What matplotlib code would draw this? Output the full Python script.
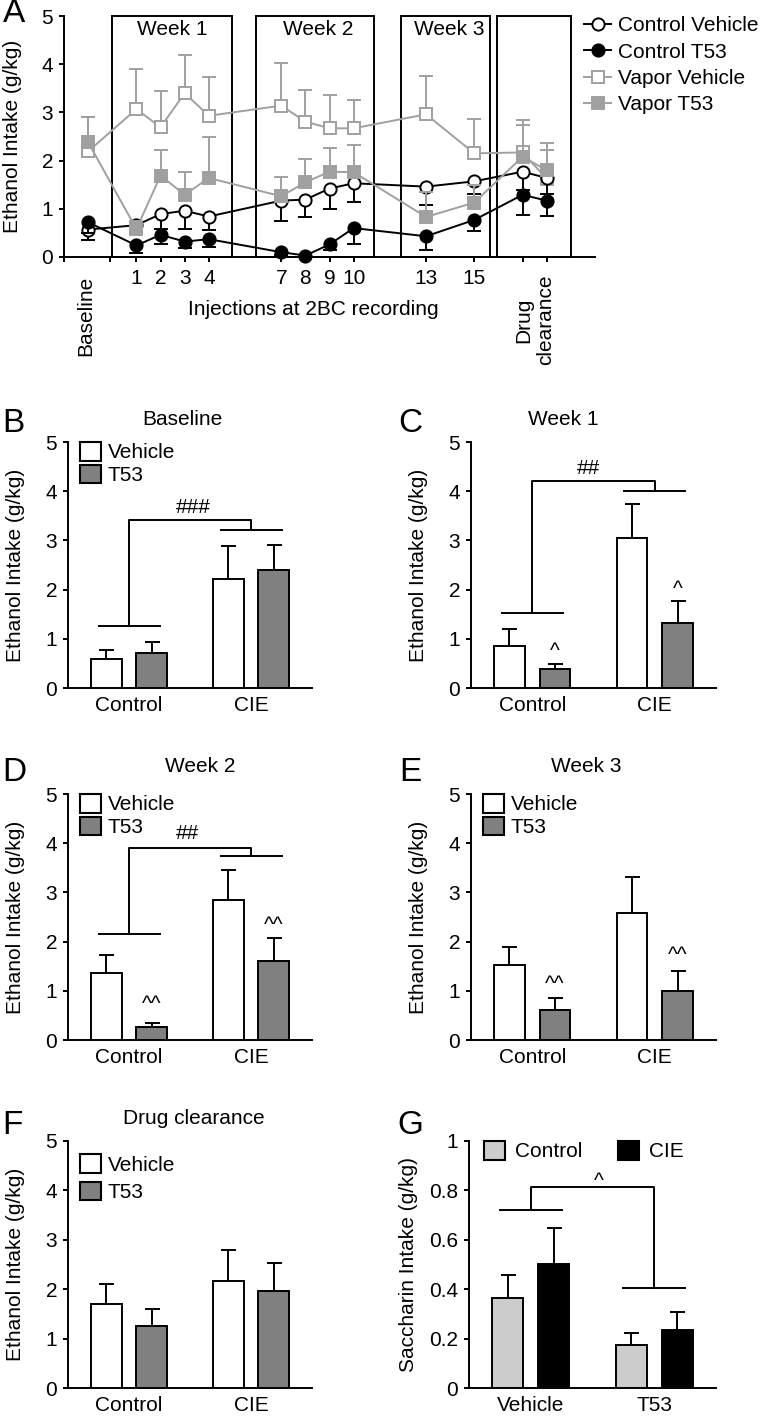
import numpy as np
import matplotlib
matplotlib.use('Agg')
import matplotlib.pyplot as plt
from matplotlib.patches import Rectangle, Patch

plt.rcParams['font.family'] = ['Liberation Sans', 'DejaVu Sans']
plt.rcParams['font.size'] = 15
plt.rcParams['axes.linewidth'] = 1.4

# ---- panel A: time course ----
a_x = [-1, 1, 2, 3, 4, 7, 8, 9, 10, 13, 15, 17, 18]
a_ticks = [-2, -0.1, 1, 2, 3, 4, 7, 8, 9, 10, 13, 15, 17, 18]
a_ticklabels = ['', '', '1', '2', '3', '4', '7', '8', '9', '10', '13', '15', '', '']

ctrl_veh = [0.57, 0.66, 0.89, 0.96, 0.84, 1.17, 1.19, 1.42, 1.53, 1.46, 1.57, 1.77, 1.64]
ctrl_veh_err = [0.36, 0.50, 0.58, 0.58, 0.55, 0.74, 0.83, 0.99, 1.15, 1.07, 1.30, 1.40, 1.30]
ctrl_t53 = [0.72, 0.24, 0.46, 0.32, 0.37, 0.10, 0.03, 0.26, 0.60, 0.43, 0.77, 1.29, 1.17]
ctrl_t53_err = [0.50, 0.08, 0.26, 0.19, 0.21, 0.05, 0.00, 0.15, 0.27, 0.14, 0.53, 0.88, 0.86]
vap_veh = [2.19, 3.07, 2.69, 3.40, 2.93, 3.14, 2.81, 2.67, 2.67, 2.96, 2.15, 2.17, 1.62]
vap_veh_err = [2.90, 3.90, 3.45, 4.19, 3.74, 4.02, 3.47, 3.36, 3.25, 3.76, 2.87, 2.85, 2.21]
vap_t53 = [2.38, 0.58, 1.69, 1.29, 1.64, 1.26, 1.55, 1.77, 1.76, 0.83, 1.13, 2.08, 1.80]
vap_t53_err = [2.90, 0.75, 2.21, 1.76, 2.50, 1.66, 2.04, 2.27, 2.33, 1.34, 1.50, 2.74, 2.36]

week_boxes = [(0.0, 4.95), (5.94, 10.84), (11.97, 15.63), (15.96, 18.99)]
week_labels = ['Week 1', 'Week 2', 'Week 3', '']
week_label_x = [2.5, 8.55, 13.95, 0]

# ---- panels B-F: ethanol intake bars (Control, CIE) ----
groups = ['Control', 'CIE']
b_veh, b_veh_err, b_t53, b_t53_err = [0.58, 2.22], [0.78, 2.88], [0.71, 2.39], [0.93, 2.91]
c_veh, c_veh_err, c_t53, c_t53_err = [0.85, 3.05], [1.19, 3.74], [0.38, 1.32], [0.49, 1.76]
d_veh, d_veh_err, d_t53, d_t53_err = [1.36, 2.85], [1.73, 3.46], [0.27, 1.61], [0.35, 2.07]
e_veh, e_veh_err, e_t53, e_t53_err = [1.52, 2.59], [1.90, 3.32], [0.61, 1.00], [0.85, 1.40]
f_veh, f_veh_err, f_t53, f_t53_err = [1.71, 2.17], [2.10, 2.79], [1.26, 1.97], [1.60, 2.54]

# ---- panel G: saccharin (Vehicle, T53) ----
g_groups = ['Vehicle', 'T53']
g_ctrl, g_ctrl_err = [0.365, 0.173], [0.458, 0.224]
g_cie, g_cie_err = [0.501, 0.235], [0.646, 0.307]

GRAY = '#a0a0a0'
W, H = 766, 1416
fig = plt.figure(figsize=(W / 100, H / 100), dpi=100)


def add_ax(l, t, r, b):
    return fig.add_axes([l / W, 1 - b / H, (r - l) / W, (b - t) / H])


def one_sided(ax, x, y, end, color, capsize, zorder):
    y = np.asarray(y, float)
    end = np.asarray(end, float)
    lo = np.clip(y - end, 0, None)
    hi = np.clip(end - y, 0, None)
    _, caps, _ = ax.errorbar(x, y, yerr=[lo, hi], fmt='none', ecolor=color,
                             elinewidth=1.4, capsize=capsize, capthick=1.4,
                             zorder=zorder)
    for c in caps:
        if np.allclose(c.get_ydata(), y):
            c.set_visible(False)


def style(ax):
    ax.spines['top'].set_visible(False)
    ax.spines['right'].set_visible(False)
    ax.tick_params(axis='y', direction='out', length=3.6, width=1.4, pad=4.3)


# ================= A =================
axA = add_ax(64, 16, 595, 257)
style(axA)
for (x0, x1), lab, xt in zip(week_boxes, week_labels, week_label_x):
    axA.add_patch(Rectangle((x0, 0), x1 - x0, 5, fill=False, ec='black',
                            lw=1.4, zorder=1, clip_on=False))
    if lab:
        axA.text(xt, 4.72, lab, ha='center', va='center')

series = [
    (vap_veh, vap_veh_err, GRAY, 's', 'white', 'Vapor Vehicle', 3),
    (ctrl_veh, ctrl_veh_err, 'black', 'o', 'white', 'Control Vehicle', 4),
    (vap_t53, vap_t53_err, GRAY, 's', GRAY, 'Vapor T53', 5),
    (ctrl_t53, ctrl_t53_err, 'black', 'o', 'black', 'Control T53', 6),
]
handles = {}
for y, err, col, mk, fc, lab, z in series:
    one_sided(axA, a_x, y, err, col, 4.8, z - 0.5)
    ln, = axA.plot(a_x, y, color=col, lw=1.4, marker=mk, ms=8.8, mfc=fc,
                   mec=col, mew=1.4, zorder=z, clip_on=False)
    handles[lab] = ln

axA.set_xlim(-2, 20)
axA.set_ylim(0, 5)
axA.set_yticks(range(6))
axA.set_xticks(a_ticks)
axA.set_xticklabels(a_ticklabels)
axA.tick_params(axis='x', direction='out', length=3.6, width=1.4, pad=5)
axA.set_ylabel('Ethanol Intake (g/kg)')
axA.yaxis.set_label_coords(-0.079, 0.5)
tr = axA.get_xaxis_transform()
axA.text(-1.1, -0.245, 'Baseline', transform=tr, rotation=90,
         ha='center', va='center')
axA.text(17.5, -0.261, 'Drug\nclearance', transform=tr, rotation=90,
         ha='center', va='center', multialignment='center')
axA.text(8.32, -0.216, 'Injections at 2BC recording', transform=tr,
         ha='center', va='center')

leg_order = ['Control Vehicle', 'Control T53', 'Vapor Vehicle', 'Vapor T53']
fig.legend([handles[k] for k in leg_order], leg_order, loc='upper left',
           bbox_to_anchor=(584 / W, 1 - 16 / H), frameon=False,
           borderpad=0, borderaxespad=0, handlelength=1.3,
           handletextpad=0.33, labelspacing=0.36, fontsize=15)


# ================= bar panels =================
OFF, BW = 0.186, 0.252


def bar_panel(rect, v1, e1, v2, e2, c1, c2, xlabels):
    ax = add_ax(*rect)
    style(ax)
    xs = np.arange(len(xlabels))
    ax.bar(xs - OFF, v1, BW, color=c1, ec='black', lw=1.4, zorder=3)
    ax.bar(xs + OFF, v2, BW, color=c2, ec='black', lw=1.4, zorder=3)
    one_sided(ax, xs - OFF, v1, e1, 'black', 5.4, 2)
    one_sided(ax, xs + OFF, v2, e2, 'black', 5.4, 2)
    ax.set_xlim(-0.5, 1.5)
    ax.set_xticks(xs)
    ax.set_xticklabels(xlabels)
    ax.tick_params(axis='x', length=0, pad=6)
    return ax


def ethanol_axes(ax, title, title_x, title_y):
    ax.set_ylim(0, 5)
    ax.set_yticks(range(6))
    ax.set_ylabel('Ethanol Intake (g/kg)')
    ax.yaxis.set_label_coords(-0.176, 0.5)
    ax.text(title_x, title_y, title, transform=ax.get_xaxis_transform(),
            ha='center', va='center')


def veh_legend(ax, y=1.0, spacing=0.1):
    hs = [Patch(fc='white', ec='black', lw=1.5), Patch(fc='#808080', ec='black', lw=1.5)]
    ax.legend(hs, ['Vehicle', 'T53'], loc='upper left', bbox_to_anchor=(0.049, y),
              frameon=False, borderpad=0, borderaxespad=0, handlelength=1.0,
              handleheight=1.0, handletextpad=0.32, labelspacing=spacing)


def bracket(ax, y_left, y_right, y_top, half=0.25):
    ax.plot([-half, half], [y_left, y_left], color='black', lw=1.4)
    ax.plot([0, 0, 1, 1], [y_left, y_top, y_top, y_right], color='black', lw=1.4)
    ax.plot([1 - half, 1 + half], [y_right, y_right], color='black', lw=1.4)


def sig(ax, x, y, s, off):
    ax.annotate(s, (x, y), xytext=(0, -off), textcoords='offset points',
                ha='center', va='baseline')


# B
axB = bar_panel((68, 442, 312, 688), b_veh, b_veh_err, b_t53, b_t53_err,
                'white', '#808080', groups)
ethanol_axes(axB, 'Baseline', 0.44, 1.093)
veh_legend(axB)
bracket(axB, 1.26, 3.22, 3.41)
sig(axB, 0.53, 3.70, '###', 5.4)

# C
axC = bar_panel((471, 442, 716, 688), c_veh, c_veh_err, c_t53, c_t53_err,
                'white', '#808080', groups)
ethanol_axes(axC, 'Week 1', 0.25, 1.093)
bracket(axC, 1.53, 4.01, 4.21)
sig(axC, 0.457, 4.51, '##', 5.4)
sig(axC, OFF, 0.85, '^', 7.9)
sig(axC, 1 + OFF, 2.11, '^', 7.9)

# D
axD = bar_panel((68, 794, 312, 1040), d_veh, d_veh_err, d_t53, d_t53_err,
                'white', '#808080', groups)
ethanol_axes(axD, 'Week 2', 0.58, 1.11)
veh_legend(axD)
bracket(axD, 2.15, 3.73, 3.91)
sig(axD, 0.48, 4.23, '##', 5.4)
sig(axD, OFF, 0.84, '^^', 7.9)
sig(axD, 1 + OFF, 2.43, '^^', 7.9)

# E
axE = bar_panel((471, 794, 716, 1040), e_veh, e_veh_err, e_t53, e_t53_err,
                'white', '#808080', groups)
ethanol_axes(axE, 'Week 3', 0.44, 1.11)
veh_legend(axE)
sig(axE, OFF, 1.24, '^^', 7.9)
sig(axE, 1 + OFF, 1.82, '^^', 7.9)

# F
axF = bar_panel((68, 1141, 312, 1388), f_veh, f_veh_err, f_t53, f_t53_err,
                'white', '#808080', groups)
ethanol_axes(axF, 'Drug clearance', 0.53, 1.093)
veh_legend(axF, y=0.947, spacing=0.35)

# G
axG = bar_panel((469, 1141, 716, 1388), g_ctrl, g_ctrl_err, g_cie, g_cie_err,
                '#cccccc', 'black', g_groups)
axG.set_ylim(0, 1)
axG.set_yticks([0, 0.2, 0.4, 0.6, 0.8, 1])
axG.set_yticklabels(['0', '0.2', '0.4', '0.6', '0.8', '1'])
axG.set_ylabel('Saccharin Intake (g/kg)')
axG.yaxis.set_label_coords(-0.206, 0.5)
hs = [Patch(fc='#cccccc', ec='black', lw=1.5), Patch(fc='black', ec='black', lw=1.5)]
axG.legend(hs, ['Control', 'CIE'], loc='upper left', ncol=2,
           bbox_to_anchor=(0.061, 1.0), frameon=False, borderpad=0,
           borderaxespad=0, handlelength=1.0, handleheight=1.0,
           handletextpad=0.5, columnspacing=1.7)
bracket(axG, 0.72, 0.406, 0.812)
sig(axG, 0.55, 0.859, '^', 7.9)

# panel letters
for lab, px, py in [('A', 14, 14), ('B', 13.5, 423), ('C', 410, 423),
                    ('D', 14, 773), ('E', 410, 773), ('F', 12, 1125), ('G', 410, 1125)]:
    fig.text(px / W, 1 - py / H, lab, fontsize=24, ha='center', va='center')

fig.savefig('out.png', dpi=100)
